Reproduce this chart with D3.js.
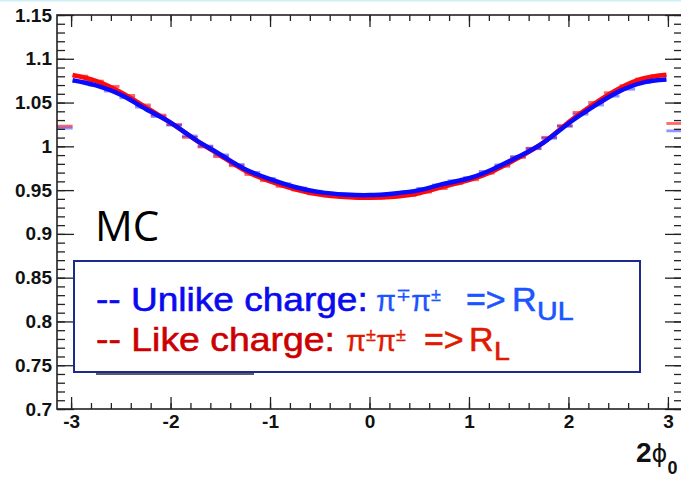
<!DOCTYPE html>
<html>
<head>
<meta charset="utf-8">
<script src="https://cdn.jsdelivr.net/npm/d3@7"></script>
<style>
  body { margin: 0; background: #fff; }
  svg { display: block; }
</style>
</head>
<body>
<div class="chart"></div>
<script>
// ratio vs 2phi0, MC, unlike (blue) and like (red) charge pairs
var width = 681,
    height = 479;

// 40 bins between -pi and pi
var binCount = 40,
    xLo = -Math.PI,
    xHi = Math.PI;

// bin contents (bin 0 .. 39)
var unlikeVals = [1.0208, 1.0742, 1.0700, 1.0632, 1.0555, 1.0448, 1.0340, 1.0242, 1.0118, 1.0003,
                  0.9902, 0.9793, 0.9702, 0.9633, 0.9572, 0.9523, 0.9487, 0.9458, 0.9452, 0.9443,
                  0.9447, 0.9462, 0.9483, 0.9520, 0.9558, 0.9607, 0.9643, 0.9714, 0.9788, 0.9884,
                  0.9973, 1.0092, 1.0228, 1.0367, 1.0472, 1.0573, 1.0652, 1.0728, 1.0756, 1.0177];
var likeVals   = [1.0231, 1.0802, 1.0745, 1.0684, 1.0582, 1.0473, 1.0357, 1.0248, 1.0102, 0.9993,
                  0.9882, 0.9778, 0.9678, 0.9607, 0.9543, 0.9502, 0.9458, 0.9434, 0.9416, 0.9413,
                  0.9411, 0.9422, 0.9438, 0.9477, 0.9518, 0.9577, 0.9618, 0.9693, 0.9772, 0.9873,
                  0.9978, 1.0103, 1.0237, 1.0388, 1.0502, 1.0613, 1.0692, 1.0768, 1.0806, 1.0261];

// fitted curves
var fitX  = [-2.985, -2.75, -2.5, -2.25, -2, -1.75, -1.5, -1.25, -1, -0.75, -0.5, -0.25, 0,
             0.25, 0.5, 0.75, 1, 1.25, 1.5, 1.75, 2, 2.25, 2.5, 2.75, 2.985];
var fitUL = [1.0755, 1.0697, 1.0588, 1.0427, 1.0270, 1.0077, 0.9907, 0.9739, 0.9625, 0.9535, 0.9477, 0.9450, 0.9443,
             0.9462, 0.9500, 0.9572, 0.9635, 0.9744, 0.9884, 1.0043, 1.0261, 1.0454, 1.0622, 1.0728, 1.0762];
var fitL  = [1.0815, 1.0748, 1.0618, 1.0448, 1.0270, 1.0075, 0.9895, 0.9720, 0.9600, 0.9510, 0.9450, 0.9422, 0.9412,
             0.9425, 0.9465, 0.9540, 0.9615, 0.9720, 0.9870, 1.0045, 1.0275, 1.0480, 1.0655, 1.0775, 1.0818];

// axis ticks
var xMajor = [-3, -2, -1, 0, 1, 2, 3];
var yMajor = [0.7, 0.75, 0.8, 0.85, 0.9, 0.95, 1, 1.05, 1.1, 1.15];

var svg = d3.select(".chart").append("svg")
    .attr("width", width)
    .attr("height", height);

// faint slide border at the very top
svg.append("rect").attr("x", 0).attr("y", 0).attr("width", width).attr("height", 1.5)
    .attr("fill", "#cdeff7");

var x = d3.scaleLinear().domain([xLo, xHi]).range([57, 682]);
var y = d3.scaleLinear().domain([0.7, 1.15]).range([409, 15]);

var binW = (xHi - xLo) / binCount;
function binCenter(i) { return xLo + (i + 0.5) * binW; }

//histograms as horizontal bars over each bin
function drawHist(vals, col) {
  svg.append("g").selectAll("line")
    .data(vals).enter()
    .append("line")
    .attr("x1", function(d, i) { return x(binCenter(i) - binW / 2); })
    .attr("x2", function(d, i) { return x(binCenter(i) + binW / 2); })
    .attr("y1", function(d) { return y(d); })
    .attr("y2", function(d) { return y(d); })
    .attr("stroke", col)
    .attr("stroke-width", 2.8);
}
drawHist(likeVals, "rgba(255,20,20,0.65)");
drawHist(unlikeVals, "rgba(40,40,255,0.5)");

//fit lines
var line = d3.line().curve(d3.curveNatural);
function drawFit(vals, col) {
  svg.append("path")
    .attr("d", line(fitX.map(function(v, i) { return [x(v), y(vals[i])]; })))
    .attr("fill", "none")
    .attr("stroke", col)
    .attr("stroke-width", 4.5);
}
drawFit(fitL, "#ff0a0a");
drawFit(fitUL, "#0a0aff");

//axes, ROOT style ticks pointing inward
var axisFont = "'Liberation Sans', Arial, Helvetica, sans-serif";
function styleAxis(g) {
  g.select(".domain").remove();
  g.selectAll("line").attr("stroke", "#222").attr("stroke-width", 1.3);
  g.attr("font-family", axisFont).attr("font-size", 19).attr("font-weight", "bold");
  g.selectAll("text").attr("fill", "#111");
}

var xMinor = d3.range(-3, 3.001, 0.2);
var yMinor = d3.range(0.7, 1.1501, 0.01);

svg.append("g").attr("transform", "translate(0,409)")
  .call(d3.axisBottom(x).tickValues(xMinor).tickSize(-6).tickFormat("")).call(styleAxis);
svg.append("g").attr("transform", "translate(0,409)")
  .call(d3.axisBottom(x).tickValues(xMajor).tickSize(-12).tickPadding(6).tickFormat(function(d){ return String(d); }))
  .call(styleAxis);
svg.append("g").attr("transform", "translate(0,15)")
  .call(d3.axisTop(x).tickValues(xMinor).tickSize(-6).tickFormat("")).call(styleAxis);
svg.append("g").attr("transform", "translate(0,15)")
  .call(d3.axisTop(x).tickValues(xMajor).tickSize(-12).tickFormat("")).call(styleAxis);

svg.append("g").attr("transform", "translate(57,0)")
  .call(d3.axisLeft(y).tickValues(yMinor).tickSize(-8).tickFormat("")).call(styleAxis);
svg.append("g").attr("transform", "translate(57,0)")
  .call(d3.axisLeft(y).tickValues(yMajor).tickSize(-17).tickPadding(5).tickFormat(function(d){ return String(d); }))
  .call(styleAxis);
svg.append("g").attr("transform", "translate(682,0)")
  .call(d3.axisRight(y).tickValues(yMinor).tickSize(-8).tickFormat("")).call(styleAxis);
svg.append("g").attr("transform", "translate(682,0)")
  .call(d3.axisRight(y).tickValues(yMajor).tickSize(-17).tickFormat("")).call(styleAxis);

//frame
svg.append("rect")
  .attr("x", 57).attr("y", 15).attr("width", 682 - 57).attr("height", 409 - 15)
  .attr("fill", "none").attr("stroke", "#222").attr("stroke-width", 1.6);

//x axis title
var xt = svg.append("text").attr("y", 462).attr("font-family", axisFont).attr("fill", "#111");
xt.append("tspan").attr("x", 636).attr("font-size", 28).attr("font-weight", "bold").text("2");
xt.append("tspan").attr("font-family", "'DejaVu Sans', sans-serif").attr("font-size", 24).text("\u03d5");
xt.append("tspan").attr("dy", 12).attr("font-size", 18).attr("font-weight", "bold").text("0");

//MC label
svg.append("text").attr("x", 95).attr("y", 241)
  .attr("font-family", "'Open Sans', sans-serif").attr("font-size", 42).attr("fill", "#000")
  .text("MC");

//legend box
svg.append("line").attr("x1", 96).attr("x2", 254).attr("y1", 374).attr("y2", 374)
  .attr("stroke", "#5a5a6a").attr("stroke-width", 2);
svg.append("rect").attr("x", 74).attr("y", 261).attr("width", 640 - 74).attr("height", 372 - 261)
  .attr("fill", "#fff").attr("stroke", "#1c2a8c").attr("stroke-width", 2);

var legFont = "'Liberation Sans', Arial, Helvetica, sans-serif";
function piece(xp, yp, txt, size, col, sx) {
  return svg.append("text")
    .attr("transform", "translate(" + xp + "," + yp + ") scale(" + (sx || 1) + ",1)")
    .attr("font-family", legFont).attr("font-size", size).attr("fill", col)
    .attr("stroke", col).attr("stroke-width", 0.6)
    .text(txt);
}
// pi pair with raised charge signs
function pions(xp, yp, s1, s2, col) {
  var t = svg.append("text")
    .attr("transform", "translate(" + xp + "," + yp + ")")
    .attr("font-family", legFont).attr("fill", col)
    .attr("stroke", col).attr("stroke-width", 0.3);
  t.append("tspan").attr("font-size", 29).text("\u03c0");
  t.append("tspan").attr("font-size", 18).attr("dy", -10).text(s1);
  t.append("tspan").attr("font-size", 29).attr("dy", 10).text("\u03c0");
  t.append("tspan").attr("font-size", 18).attr("dy", -10).text(s2);
}
var blue1 = "#0a0af0", blue2 = "#1a55ff", red1 = "#cc0000", red2 = "#e01a00";
piece(96, 311, "-- Unlike charge:", 34, blue1, 1.09);
pions(376, 311, "\u2213", "\u00b1", blue2);
piece(466, 311, "=>", 34, blue2);
piece(512, 311, "R", 34, blue2);
piece(537, 320, "UL", 26, blue2, 1.1);
piece(96, 351, "-- Like charge:", 34, red1, 1.1);
pions(346, 351, "\u00b1", "\u00b1", red2);
piece(424, 351, "=>", 34, red2);
piece(469, 351, "R", 34, red2);
piece(494, 360, "L", 26, red2, 1.1);
</script>
</body>
</html>
